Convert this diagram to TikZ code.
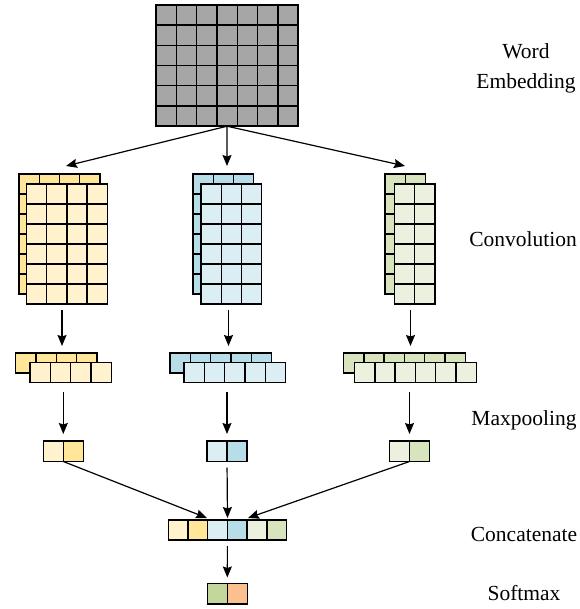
\documentclass[tikz,border=0pt]{standalone}
\usepackage{fontspec}
\setmainfont{Liberation Serif}
\usetikzlibrary{arrows.meta}

\definecolor{embgray}{HTML}{A6A6A6}
\definecolor{yelLight}{HTML}{FFF2CC}
\definecolor{yelDark}{HTML}{FFE699}
\definecolor{bluLight}{HTML}{DAEEF3}
\definecolor{bluDark}{HTML}{B7DEE8}
\definecolor{grnLight}{HTML}{EBF1DE}
\definecolor{grnDark}{HTML}{D7E4BD}
\definecolor{smGreen}{HTML}{C3D69B}
\definecolor{smOrange}{HTML}{FAC090}

\tikzset{
  cellbox/.style={draw=black, line width=1.4pt, inner sep=0pt, outer sep=0pt},
  cellline/.style={draw=black, line width=1.4pt},
  arr/.style={-{Stealth[length=11pt,width=9pt,inset=1.5pt]}, line width=1.2pt},
  lbl/.style={font=\fontsize{21.5}{30}\selectfont, inner sep=0pt, align=center}
}

% name, x0, y0, cols, rows, cell width, cell height, fill
\newcommand\gridblock[8]{%
  \node[cellbox, fill=#8, anchor=north west,
        minimum width={#4*#6pt}, minimum height={#5*#7pt}] (#1) at (#2,#3) {};
  \foreach \c in {1,...,#4}{
    \foreach \r in {1,...,#5}{
      \draw[cellline] ({#2+(\c-1)*#6},{#3+(\r-1)*#7}) rectangle ++(#6,#7);
    }
  }
}

\begin{document}
\begin{tikzpicture}[x=1pt, y=-1pt]
\useasboundingbox (0,0) rectangle (579,609);

% word embedding matrix
\gridblock{emb}{156}{5}{7}{6}{20.3}{20.2}{embgray}

% convolution feature maps (back and front layers)
\gridblock{convAb}{19}{174}{4}{6}{20.2}{20}{yelDark}
\gridblock{convAf}{26.5}{184}{4}{6}{20.2}{20}{yelLight}
\gridblock{convBb}{193}{174}{3}{6}{20.2}{20}{bluDark}
\gridblock{convBf}{201}{184}{3}{6}{20.2}{20}{bluLight}
\gridblock{convCb}{385}{174}{2}{6}{20.2}{20}{grnDark}
\gridblock{convCf}{394.5}{184}{2}{6}{20.2}{20}{grnLight}

% pooled rows
\gridblock{poolAb}{15.7}{353}{4}{1}{20.3}{20}{yelDark}
\gridblock{poolAf}{30}{362.5}{4}{1}{20.3}{20}{yelLight}
\gridblock{poolBb}{170}{353}{5}{1}{20.3}{20}{bluDark}
\gridblock{poolBf}{184}{362.5}{5}{1}{20.3}{20}{bluLight}
\gridblock{poolCb}{343.5}{353}{6}{1}{20.3}{20}{grnDark}
\gridblock{poolCf}{354.5}{362.5}{6}{1}{20.3}{20}{grnLight}

% max-pooled pairs
\node[cellbox, fill=yelLight, anchor=north west, minimum width=20pt, minimum height=20.5pt] (maxA1) at (43.3,441) {};
\node[cellbox, fill=yelDark, anchor=north west, minimum width=20pt, minimum height=20.5pt] (maxA2) at (63.3,441) {};
\node[cellbox, fill=bluLight, anchor=north west, minimum width=20pt, minimum height=20.5pt] (maxB1) at (207,441) {};
\node[cellbox, fill=bluDark, anchor=north west, minimum width=20pt, minimum height=20.5pt] (maxB2) at (227,441) {};
\node[cellbox, fill=grnLight, anchor=north west, minimum width=20pt, minimum height=20.5pt] (maxC1) at (389.5,441) {};
\node[cellbox, fill=grnDark, anchor=north west, minimum width=20pt, minimum height=20.5pt] (maxC2) at (409.5,441) {};

% concatenated vector
\foreach \k/\col in {0/yelLight,1/yelDark,2/bluLight,3/bluDark,4/grnLight,5/grnDark}{
  \node[cellbox, fill=\col, anchor=north west, minimum width=19.7pt, minimum height=20pt]
    (cat\k) at ({168.3+\k*19.7},520) {};
}

% softmax output
\node[cellbox, fill=smGreen, anchor=north west, minimum width=20pt, minimum height=20.5pt] (sm1) at (207.3,583.5) {};
\node[cellbox, fill=smOrange, anchor=north west, minimum width=20pt, minimum height=20.5pt] (sm2) at (227.3,583.5) {};

% arrow end points
\coordinate (tipConvA) at (66,166);
\coordinate (tipConvB) at (227,166);
\coordinate (tipConvC) at (405,166);
\coordinate (tipPoolA) at (62,346);
\coordinate (tipPoolB) at (228.5,346);
\coordinate (tipPoolC) at (410.5,346);
\coordinate (tipMaxA) at (63.3,434);
\coordinate (tipMaxB) at (227,434);
\coordinate (tipMaxC) at (409.5,434);
\coordinate (tipCatA) at (207,518);
\coordinate (tipCatB) at (227.5,518);
\coordinate (tipCatC) at (248,518);

% embedding -> convolution
\draw[arr] (emb.south) -- (tipConvA);
\draw[arr] (emb.south) -- (tipConvB);
\draw[arr] (emb.south) -- (tipConvC);

% convolution -> pooled rows
\draw[arr, shorten <=6pt] (convAf.south -| tipPoolA) -- (tipPoolA);
\draw[arr, shorten <=6pt] (convBf.south -| tipPoolB) -- (tipPoolB);
\draw[arr, shorten <=6pt] (convCf.south -| tipPoolC) -- (tipPoolC);

% pooled rows -> max pooling
\draw[arr, shorten <=9pt] (poolAf.south -| tipMaxA) -- (tipMaxA);
\draw[arr, shorten <=9pt] (poolBf.south -| tipMaxB) -- (tipMaxB);
\draw[arr, shorten <=9pt] (poolCf.south -| tipMaxC) -- (tipMaxC);

% max pooling -> concatenation
\draw[arr] (maxA1.south east) -- (tipCatA);
\draw[arr, shorten <=6pt] (maxB1.south east) -- (tipCatB);
\draw[arr] (maxC1.south east) -- (tipCatC);

% concatenation -> softmax
\draw[arr, shorten <=6pt, shorten >=6pt] (cat2.south east) -- (sm1.north east);

% stage labels
\node[lbl] (lEmb) at (526,68) {Word\\Embedding};
\node[lbl, anchor=base] (lConv) at (523,247) {Convolution};
\node[lbl, anchor=base] (lMax) at (524,425) {Maxpooling};
\node[lbl, anchor=base] (lCat) at (524,541.5) {Concatenate};
\node[lbl, anchor=base] (lSm) at (524,600) {Softmax};
\end{tikzpicture}
\end{document}
